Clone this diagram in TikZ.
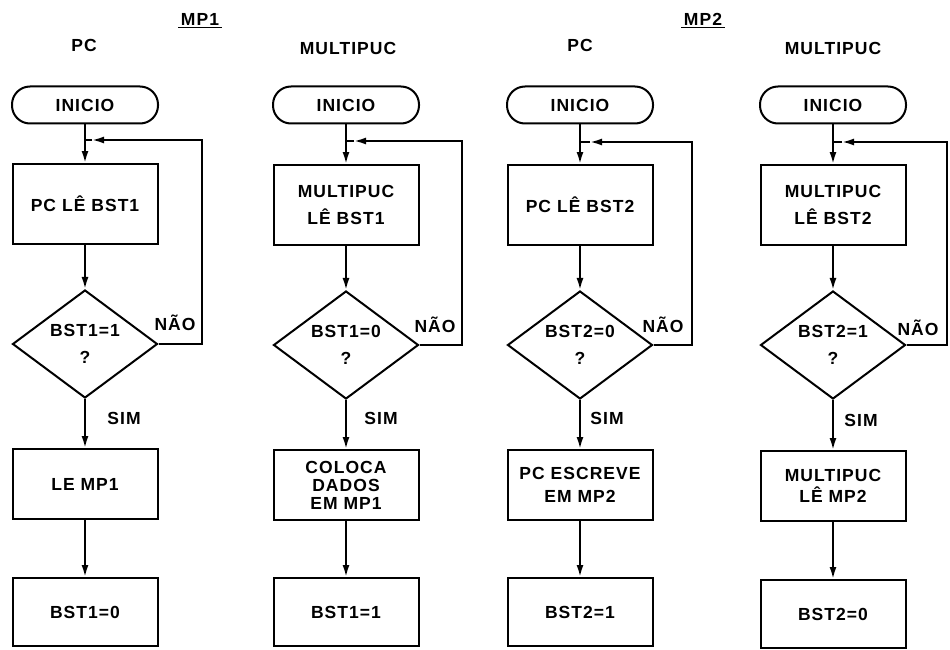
\documentclass[tikz,border=0pt]{standalone}
\usepackage{fontspec}
\setmainfont{Liberation Sans}[LetterSpace=6]
\usetikzlibrary{shapes.geometric,arrows.meta}
\begin{document}
\begin{tikzpicture}[x=1pt,y=-1pt, line width=2pt,
  every node/.style={font=\bfseries\fontsize{17.5}{21}\selectfont},
  term/.style={draw, rounded corners=18pt, minimum width=146pt, minimum height=37pt, inner sep=0pt},
  proc/.style={draw, minimum width=145pt, inner sep=0pt, align=center},
  dec/.style={draw, diamond, aspect=1.34, minimum width=145pt, minimum height=108pt, inner sep=0pt, align=center},
  arr/.style={-{Latex[length=12pt,width=7pt]}},
  lbl/.style={inner sep=0pt}
]
\useasboundingbox (0,0) rectangle (950,650);

% ---------- headers ----------
\node (h1) at (84,45) {PC};
\node (h2) at (348,48) {MULTIPUC};
\node (h3) at (580,45) {PC};
\node (h4) at (833,48) {MULTIPUC};
\node[inner sep=1.5pt] (mp1) at (200,19) {MP1};
\node[inner sep=1.5pt] (mp2) at (703,19) {MP2};
\draw[line width=1.4pt] (mp1.south west) -- (mp1.south east);
\draw[line width=1.4pt] (mp2.south west) -- (mp2.south east);

% ---------- column 1 ----------
\node[term] (s1) at (85,105) {INICIO};
\node[proc, minimum height=80pt] (a1) at (85,204) {PC LÊ BST1};
\node[dec] (d1) at (85,344) {BST1=1\\[6pt]?};
\node[proc, minimum height=70pt] (b1) at (85,484) {LE MP1};
\node[proc, minimum height=68pt] (e1) at (85,612) {BST1=0};
\coordinate (j1) at (85,140);
\coordinate (k1) at (92,140);
\coordinate (r1) at (202,140);
\draw[arr] (s1.south) -- (a1.north);
\draw[arr] (a1) -- (d1);
\draw[arr] (d1) -- (b1);
\draw[arr] (b1) -- (e1);
\draw[arr] (d1.east) -| (r1) -- (k1);
\draw (k1) -- (j1);
\node[lbl] (n1) at (175,323) {NÃO};
\node[lbl] (y1) at (124,418) {SIM};

% ---------- column 2 ----------
\node[term] (s2) at (346,105) {INICIO};
\node[proc, minimum height=80pt] (a2) at (346,205) {MULTIPUC\\[6pt]LÊ BST1};
\node[dec] (d2) at (346,345) {BST1=0\\[6pt]?};
\node[proc, minimum height=70pt] (b2) at (346,485) {COLOCA\\[-3pt]DADOS\\[-3pt]EM MP1};
\node[proc, minimum height=68pt] (e2) at (346,612) {BST1=1};
\coordinate (j2) at (346,141);
\coordinate (k2) at (354,141);
\coordinate (r2) at (462,141);
\draw[arr] (s2.south) -- (a2.north);
\draw[arr] (a2) -- (d2);
\draw[arr] (d2) -- (b2);
\draw[arr] (b2) -- (e2);
\draw[arr] (d2.east) -| (r2) -- (k2);
\draw (k2) -- (j2);
\node[lbl] (n2) at (435,325) {NÃO};
\node[lbl] (y2) at (381,418) {SIM};

% ---------- column 3 ----------
\node[term] (s3) at (580,105) {INICIO};
\node[proc, minimum height=80pt] (a3) at (580,205) {PC LÊ BST2};
\node[dec] (d3) at (580,345) {BST2=0\\[6pt]?};
\node[proc, minimum height=70pt] (b3) at (580,485) {PC ESCREVE\\[2pt]EM MP2};
\node[proc, minimum height=68pt] (e3) at (580,612) {BST2=1};
\coordinate (j3) at (580,142);
\coordinate (k3) at (590,142);
\coordinate (r3) at (692,142);
\draw[arr] (s3.south) -- (a3.north);
\draw[arr] (a3) -- (d3);
\draw[arr] (d3) -- (b3);
\draw[arr] (b3) -- (e3);
\draw[arr] (d3.east) -| (r3) -- (k3);
\draw (k3) -- (j3);
\node[lbl] (n3) at (663,325) {NÃO};
\node[lbl] (y3) at (607,418) {SIM};

% ---------- column 4 ----------
\node[term] (s4) at (833,105) {INICIO};
\node[proc, minimum height=80pt] (a4) at (833,205) {MULTIPUC\\[6pt]LÊ BST2};
\node[dec] (d4) at (833,345) {BST2=1\\[6pt]?};
\node[proc, minimum height=70pt] (b4) at (833,486) {MULTIPUC\\[0pt]LÊ MP2};
\node[proc, minimum height=68pt] (e4) at (833,614) {BST2=0};
\coordinate (j4) at (833,142);
\coordinate (k4) at (842,142);
\coordinate (r4) at (947,142);
\draw[arr] (s4.south) -- (a4.north);
\draw[arr] (a4) -- (d4);
\draw[arr] (d4) -- (b4);
\draw[arr] (b4) -- (e4);
\draw[arr] (d4.east) -| (r4) -- (k4);
\draw (k4) -- (j4);
\node[lbl] (n4) at (918,328) {NÃO};
\node[lbl] (y4) at (861,420) {SIM};
\end{tikzpicture}
\end{document}
